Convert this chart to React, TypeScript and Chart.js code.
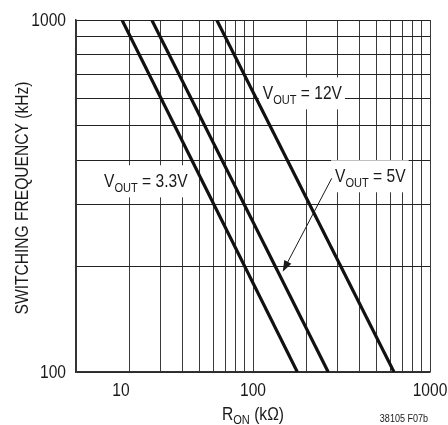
import React, { useEffect, useRef } from "react";
import { Chart, registerables } from "chart.js";

Chart.register(...registerables);

// Curve end points: R_ON (kΩ) vs switching frequency (kHz)
const rOn3v3 = [18.2, 178];
const freq3v3 = [1000, 100];
const rOn5v = [26.8, 266];
const freq5v = [1000, 100];
const rOn12v = [62.4, 626];
const freq12v = [1000, 100];

const seriesNames = ["3.3V", "5V", "12V"];

const xGridValues = [10, 20, 30, 40, 50, 60, 70, 80, 90, 100, 200, 300, 400, 500, 600, 700, 800, 900, 1000];
const yGridValues = [100, 200, 300, 400, 500, 600, 700, 800, 900, 1000];
const xTickValues = [10, 100, 1000];
const xTickLabels = ["10", "100", "1000"];
const yTickValues = [100, 1000];
const yTickLabels = ["100", "1000"];

// label anchors (data coordinates) for 3.3V, 5V, 12V
const labelR = [14.4, 290.7, 113.5];
const labelF = [334.7, 345.9, 595];
// arrow from 5V label to 5V curve
const arrowR = [278.4, 147.2];
const arrowF = [355, 192.8];

const FAM = '"Liberation Sans", Arial, sans-serif';
const MAIN = `19px ${FAM}`;
const SUB = `13.5px ${FAM}`;
const SMALL = `11px ${FAM}`;
const TEXT = "#1a1a1a";
const SX = 0.82; // narrow (condensed) text

function tw(ctx: CanvasRenderingContext2D, s: string, font: string) {
  ctx.font = font;
  return ctx.measureText(s).width * SX;
}

function tn(ctx: CanvasRenderingContext2D, s: string, x: number, y: number, font: string, align = "left") {
  ctx.font = font;
  const w = ctx.measureText(s).width * SX;
  const lx = align === "center" ? x - w / 2 : align === "right" ? x - w : x;
  ctx.save();
  ctx.translate(lx, y);
  ctx.scale(SX, 1);
  ctx.textAlign = "left";
  ctx.fillText(s, 0, 0);
  ctx.restore();
  return w;
}

function voutWidth(ctx: CanvasRenderingContext2D, suffix: string) {
  return tw(ctx, "V", MAIN) + tw(ctx, "OUT", SUB) + tw(ctx, " = " + suffix, MAIN);
}

function drawVout(ctx: CanvasRenderingContext2D, x: number, y: number, suffix: string) {
  ctx.textBaseline = "alphabetic";
  let cx = x;
  cx += tn(ctx, "V", cx, y, MAIN);
  cx += tn(ctx, "OUT", cx, y + 5, SUB);
  tn(ctx, " = " + suffix, cx, y, MAIN);
}

const decorPlugin = {
  id: "decor",
  beforeDatasetsDraw(chart: any) {
    const ctx: CanvasRenderingContext2D = chart.ctx;
    const xs = chart.scales.x;
    const ys = chart.scales.y;
    ctx.save();
    ctx.fillStyle = "#ffffff";
    for (let i = 0; i < seriesNames.length; i++) {
      const px = xs.getPixelForValue(labelR[i]);
      const py = ys.getPixelForValue(labelF[i]);
      const w = voutWidth(ctx, seriesNames[i]);
      ctx.fillRect(px - 4, py - 22, w + 7, 32);
    }
    ctx.restore();
  },
  afterDatasetsDraw(chart: any) {
    const ctx: CanvasRenderingContext2D = chart.ctx;
    const xs = chart.scales.x;
    const ys = chart.scales.y;
    const area = chart.chartArea;
    ctx.save();
    ctx.fillStyle = TEXT;
    for (let i = 0; i < seriesNames.length; i++) {
      drawVout(ctx, xs.getPixelForValue(labelR[i]), ys.getPixelForValue(labelF[i]), seriesNames[i]);
    }
    // arrow
    const x0 = xs.getPixelForValue(arrowR[0]);
    const y0 = ys.getPixelForValue(arrowF[0]);
    const x1 = xs.getPixelForValue(arrowR[1]);
    const y1 = ys.getPixelForValue(arrowF[1]);
    const ang = Math.atan2(y1 - y0, x1 - x0);
    const hl = 11;
    const hw = 4;
    ctx.strokeStyle = TEXT;
    ctx.lineWidth = 1;
    ctx.beginPath();
    ctx.moveTo(x0, y0);
    ctx.lineTo(x1 - Math.cos(ang) * hl * 0.8, y1 - Math.sin(ang) * hl * 0.8);
    ctx.stroke();
    ctx.beginPath();
    ctx.moveTo(x1, y1);
    ctx.lineTo(x1 - Math.cos(ang) * hl - Math.sin(ang) * hw, y1 - Math.sin(ang) * hl + Math.cos(ang) * hw);
    ctx.lineTo(x1 - Math.cos(ang) * hl + Math.sin(ang) * hw, y1 - Math.sin(ang) * hl - Math.cos(ang) * hw);
    ctx.closePath();
    ctx.fill();

    // tick labels
    ctx.textBaseline = "middle";
    for (let i = 0; i < xTickValues.length; i++) {
      const shift = i === 0 ? 45 : 0;
      tn(ctx, xTickLabels[i], xs.getPixelForValue(xTickValues[i]) + shift, area.bottom + 19, MAIN, "center");
    }
    for (let i = 0; i < yTickValues.length; i++) {
      tn(ctx, yTickLabels[i], area.left - 10, ys.getPixelForValue(yTickValues[i]) + 1, MAIN, "right");
    }

    // x title R_ON (kΩ)
    ctx.textBaseline = "alphabetic";
    const wR = tw(ctx, "R", MAIN);
    const wOn = tw(ctx, "ON", SUB);
    const wRest = tw(ctx, " (k\u03A9)", MAIN);
    const total = wR + wOn + wRest;
    let tx = (area.left + area.right) / 2 - total / 2;
    const ty = area.bottom + 48;
    tx += tn(ctx, "R", tx, ty, MAIN);
    tx += tn(ctx, "ON", tx, ty + 4, SUB);
    tn(ctx, " (k\u03A9)", tx, ty, MAIN);

    // y title
    ctx.save();
    ctx.translate(28, (area.top + area.bottom) / 2 + 2);
    ctx.rotate(-Math.PI / 2);
    tn(ctx, "SWITCHING FREQUENCY (kHz)", 0, 0, MAIN, "center");
    ctx.restore();

    // figure id
    tn(ctx, "38105 F07b", area.right - 2, area.bottom + 50, SMALL, "right");
    ctx.restore();
  },
};

function pts(xs: number[], ys: number[]) {
  return xs.map((x, i) => ({ x, y: ys[i] }));
}

export default function App() {
  const ref = useRef<HTMLCanvasElement>(null);
  useEffect(() => {
    if (!ref.current) return;
    const lineStyle = {
      borderColor: "#111111",
      borderWidth: 3.2,
      pointRadius: 0,
      fill: false,
      tension: 0,
    };
    const chart = new Chart(ref.current, {
      type: "line",
      data: {
        datasets: [
          { label: "VOUT = 3.3V", data: pts(rOn3v3, freq3v3), ...lineStyle },
          { label: "VOUT = 5V", data: pts(rOn5v, freq5v), ...lineStyle },
          { label: "VOUT = 12V", data: pts(rOn12v, freq12v), ...lineStyle },
        ],
      },
      options: {
        animation: false,
        responsive: false,
        events: [],
        layout: { padding: { left: 76, right: 18, top: 20, bottom: 53 } },
        plugins: { legend: { display: false }, tooltip: { enabled: false } },
        scales: {
          x: {
            type: "logarithmic",
            min: 10,
            max: 1000,
            afterBuildTicks: (scale: any) => {
              scale.ticks = xGridValues.map((v) => ({ value: v }));
            },
            ticks: { display: false },
            grid: { color: "#3a3a3a", lineWidth: 1, drawTicks: false },
            border: { display: true, color: "#333333", width: 1.5 },
          },
          y: {
            type: "logarithmic",
            min: 100,
            max: 1000,
            afterBuildTicks: (scale: any) => {
              scale.ticks = yGridValues.map((v) => ({ value: v }));
            },
            ticks: { display: false },
            grid: { color: "#222222", lineWidth: 1, drawTicks: false },
            border: { display: true, color: "#333333", width: 1.5 },
          },
        },
      },
      plugins: [decorPlugin],
    } as any);
    return () => chart.destroy();
  }, []);
  return (
    <div style={{ position: "absolute", left: 0, top: 0, width: 448, height: 425, background: "#fff" }}>
      <canvas ref={ref} width={448} height={425} />
    </div>
  );
}
